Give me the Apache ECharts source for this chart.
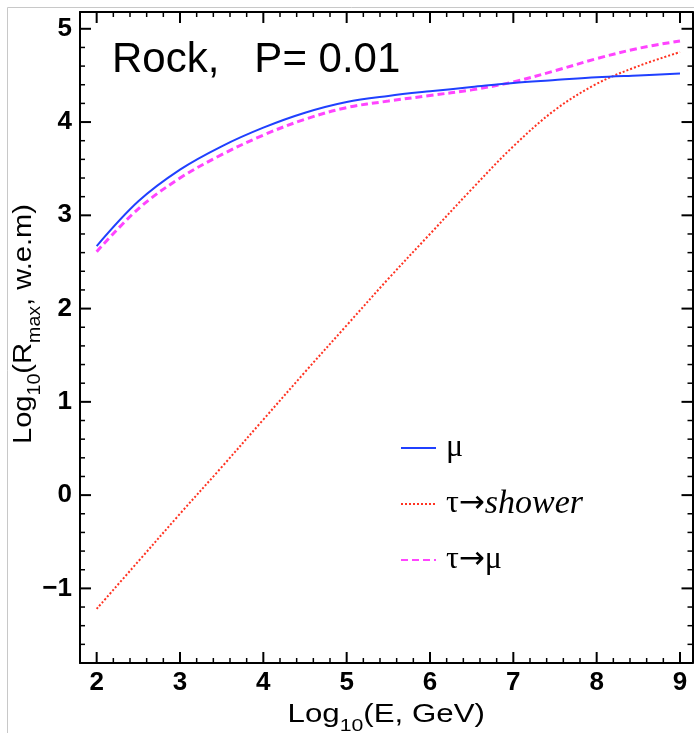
<!DOCTYPE html>
<html>
<head>
<meta charset="utf-8">
<script src="https://cdn.jsdelivr.net/npm/echarts@6/dist/echarts.min.js"></script>
<style>
html,body{margin:0;padding:0;background:#fff;}
#chart{width:694px;height:733px;}
</style>
</head>
<body>
<div id="chart"></div>
<script>
// ---- data ----
const energies = [2, 2.5, 3, 3.5, 4, 4.5, 5, 5.5, 6, 6.5, 7, 7.5, 8, 8.5, 9];
const muRange = [2.67, 3.15, 3.49, 3.74, 3.94, 4.10, 4.215, 4.28, 4.33, 4.375, 4.42, 4.45, 4.48, 4.50, 4.52];
const tauMuRange = [2.61, 3.07, 3.40, 3.65, 3.86, 4.03, 4.155, 4.225, 4.285, 4.345, 4.43, 4.55, 4.68, 4.79, 4.87];
const tauShowerRange = [-1.22, -0.71, -0.20, 0.30, 0.81, 1.32, 1.82, 2.32, 2.80, 3.28, 3.74, 4.13, 4.41, 4.60, 4.75];
const seriesNames = ['μ', 'τ→shower', 'τ→μ'];
const xMajorTicks = [2, 3, 4, 5, 6, 7, 8, 9];
const yMajorTicks = [-1, 0, 1, 2, 3, 4, 5];
const titleText = 'Rock,   P= 0.01';
const xTitle = 'Log{s|10}(E, GeV)';
const yTitle = 'Log{s|10}(R{s|max}, w.e.m)';

// ---- axis ranges ----
const X_MIN = 1.8, X_MAX = 9.15, Y_MIN = -1.8, Y_MAX = 5.18;
const MINOR_STEP = 0.2;
function minorTicks(lo, hi, step) {
  const out = [];
  for (let k = Math.round(lo / step); k * step <= hi + 1e-9; k++) {
    const v = Math.round(k * step * 10) / 10;
    if (v > lo + 1e-9 && Math.abs(v - Math.round(v)) > 1e-6) out.push(v);
  }
  return out;
}
const xMinorTicks = minorTicks(X_MIN, X_MAX, MINOR_STEP);
const yMinorTicks = minorTicks(Y_MIN, Y_MAX, MINOR_STEP);

// ---- layout ----
const W = 694, H = 733;
const G = { left: 80, right: 1.5, top: 12, bottom: 70 };
const MAJOR_LEN = 11, MINOR_LEN = 5;
const lineCol = '#000';
const labelStyle = { color: '#000', fontSize: 26, fontWeight: 'bold', fontFamily: 'Liberation Sans' };

function frameAxis(position, min, max, label) {
  return {
    type: 'value', gridIndex: 0, position: position, min: min, max: max,
    axisLine: { show: true, onZero: false, lineStyle: { color: lineCol, width: 2 } },
    axisTick: { show: false },
    axisLabel: label ? Object.assign({ show: true }, labelStyle, label) : { show: false },
    splitLine: { show: false }
  };
}

const chart = echarts.init(document.getElementById('chart'), null, { renderer: 'canvas' });
const baseGraphics = [
  { type: 'rect', silent: true, z: -10, shape: { x: 7.5, y: 7.5, width: 720, height: 760 },
    style: { fill: 'none', stroke: '#c8c8c8', lineWidth: 1 } },
  { type: 'text', silent: true, x: 112, y: 60.3,
    style: { text: titleText, fontSize: 42, fontFamily: 'Liberation Sans', fill: '#000', align: 'left', verticalAlign: 'middle' } },
  { type: 'text', silent: true, x: (G.left + W - G.right) / 2, y: 715.2, scaleX: 1.25,
    style: { text: xTitle, fontSize: 25, lineHeight: 39, fontFamily: 'Liberation Sans', fill: '#000', align: 'center', verticalAlign: 'middle',
      rich: { s: { fontSize: 17, lineHeight: 17, verticalAlign: 'bottom', fontFamily: 'Liberation Sans', fill: '#000' } } } },
  { type: 'text', silent: true, x: 23.7, y: 324, rotation: Math.PI / 2, scaleX: 1.12,
    style: { text: yTitle, fontSize: 26, lineHeight: 40, fontFamily: 'Liberation Sans', fill: '#000', align: 'center', verticalAlign: 'middle',
      rich: { s: { fontSize: 17.5, lineHeight: 17.5, verticalAlign: 'bottom', fontFamily: 'Liberation Sans', fill: '#000' } } } }
];

const option = {
  animation: false,
  backgroundColor: '#fff',
  grid: [Object.assign({ containLabel: false, outerBoundsMode: 'none', show: false }, G)],
  xAxis: [
    frameAxis('bottom', X_MIN, X_MAX, { customValues: xMajorTicks, margin: 7, formatter: v => String(v) }),
    frameAxis('top', X_MIN, X_MAX)
  ],
  yAxis: [
    frameAxis('left', Y_MIN, Y_MAX, { customValues: yMajorTicks, margin: 8, formatter: v => String(v).replace('-', '\u2212') }),
    frameAxis('right', Y_MIN, Y_MAX)
  ],
  legend: {
    orient: 'vertical', left: 395, top: 427,
    itemWidth: 35, itemHeight: 12, itemGap: 23,
    data: seriesNames,
    selectedMode: false,
    itemStyle: { opacity: 0 },
    formatter: function (name) {
      if (name === 'τ→shower') return '{f|τ}{a|→}{i|shower}';
      if (name === 'τ→μ') return '{f|τ}{a|→}{n|μ}';
      return '{f|' + name + '}';
    },
    textStyle: {
      color: '#000', fontFamily: 'Liberation Serif', fontSize: 32, lineHeight: 32,
      rich: {
        f: { fontFamily: 'Liberation Serif', fontSize: 32, lineHeight: 32, color: '#000', padding: [0, 0, 0, 5] },
        n: { fontFamily: 'Liberation Serif', fontSize: 32, lineHeight: 32, color: '#000' },
        a: { fontFamily: 'DejaVu Sans', fontSize: 31, lineHeight: 32, color: '#000' },
        i: { fontFamily: 'Liberation Serif', fontSize: 34, lineHeight: 32, color: '#000', fontStyle: 'italic' }
      }
    }
  },
  graphic: baseGraphics,
  series: [
    { name: seriesNames[0], type: 'line', xAxisIndex: 0, yAxisIndex: 0, smooth: 0.35, symbol: 'none',
      data: energies.map((e, i) => [e, muRange[i]]),
      lineStyle: { color: '#2040ff', width: 2 }, itemStyle: { color: '#2040ff' }, z: 3 },
    { name: seriesNames[1], type: 'line', xAxisIndex: 0, yAxisIndex: 0, smooth: 0.35, symbol: 'none',
      data: energies.map((e, i) => [e, tauShowerRange[i]]),
      lineStyle: { color: '#ff3322', width: 2, type: [2, 2] }, itemStyle: { color: '#ff3322' }, z: 2 },
    { name: seriesNames[2], type: 'line', xAxisIndex: 0, yAxisIndex: 0, smooth: 0.35, symbol: 'none',
      data: energies.map((e, i) => [e, tauMuRange[i]]),
      lineStyle: { color: '#ff44ff', width: 3, type: [7, 4] }, itemStyle: { color: '#ff44ff' }, z: 2 }
  ]
};
chart.setOption(option);

// tick marks: positions obtained from the chart's own axis scales (convertToPixel)
function tickLines() {
  const out = [];
  const add = (x1, y1, x2, y2, w) => out.push({ type: 'line', silent: true, z: 100,
    shape: { x1: x1, y1: y1, x2: x2, y2: y2 }, style: { stroke: lineCol, lineWidth: w } });
  const xs = xMajorTicks.map(v => [v, true]).concat(xMinorTicks.map(v => [v, false]));
  const ys = yMajorTicks.map(v => [v, true]).concat(yMinorTicks.map(v => [v, false]));
  xs.forEach(([v, major]) => {
    const len = major ? MAJOR_LEN : MINOR_LEN, w = major ? 2 : 1.5;
    const b = chart.convertToPixel({ xAxisIndex: 0, yAxisIndex: 0 }, [v, Y_MIN]);
    const t = chart.convertToPixel({ xAxisIndex: 0, yAxisIndex: 0 }, [v, Y_MAX]);
    add(b[0], b[1], b[0], b[1] - len, w);
    add(t[0], t[1], t[0], t[1] + len, w);
  });
  ys.forEach(([v, major]) => {
    const len = major ? MAJOR_LEN : MINOR_LEN, w = major ? 2 : 1.5;
    const l = chart.convertToPixel({ xAxisIndex: 0, yAxisIndex: 0 }, [X_MIN, v]);
    const r = chart.convertToPixel({ xAxisIndex: 0, yAxisIndex: 0 }, [X_MAX, v]);
    add(l[0], l[1], l[0] + len, l[1], w);
    add(r[0], r[1], r[0] - len, r[1], w);
  });
  return out;
}
chart.setOption({ graphic: baseGraphics.concat(tickLines()) });
</script>
</body>
</html>
